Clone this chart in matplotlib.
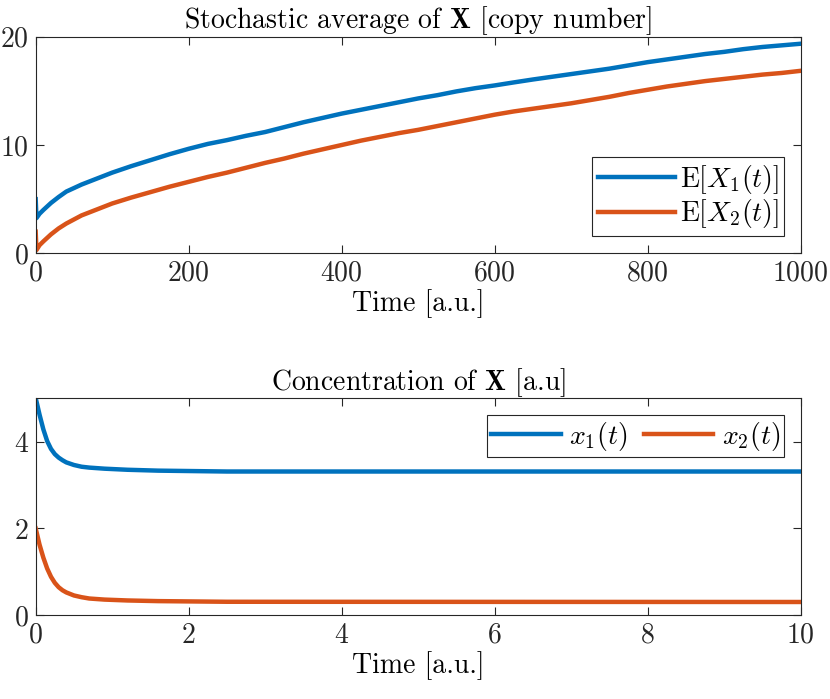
import matplotlib
matplotlib.use('Agg')
import matplotlib.pyplot as plt

# stochastic average (top panel)
t_stoch = [0, 1, 5, 10, 20, 30, 40, 60, 80, 100, 125, 150, 175, 200, 225, 250, 275,
           300, 325, 350, 375, 400, 425, 450, 475, 500, 525, 550, 575, 600, 625,
           650, 675, 700, 725, 750, 775, 800, 825, 850, 875, 900, 925, 950, 975,
           1000]
E_x1 = [5.0, 3.25, 3.65, 4.0, 4.65, 5.2, 5.7, 6.35, 6.9, 7.45, 8.05, 8.6, 9.15,
        9.65, 10.1, 10.45, 10.85, 11.2, 11.65, 12.1, 12.5, 12.9, 13.25, 13.6,
        13.95, 14.3, 14.6, 14.95, 15.25, 15.5, 15.78, 16.05, 16.3, 16.55, 16.8,
        17.05, 17.35, 17.65, 17.9, 18.15, 18.4, 18.6, 18.85, 19.05, 19.2, 19.35]
E_x2 = [2.0, 0.3, 0.75, 1.1, 1.75, 2.3, 2.75, 3.5, 4.05, 4.6, 5.15, 5.65, 6.15,
        6.6, 7.05, 7.45, 7.9, 8.35, 8.75, 9.2, 9.6, 10.0, 10.4, 10.75, 11.1, 11.4,
        11.75, 12.1, 12.45, 12.8, 13.1, 13.35, 13.6, 13.85, 14.15, 14.45, 14.8,
        15.1, 15.4, 15.65, 15.9, 16.1, 16.3, 16.5, 16.65, 16.85]

# deterministic concentration (bottom panel)
t_conc = [0, 0.05, 0.1, 0.15, 0.2, 0.25, 0.3, 0.35, 0.4, 0.5, 0.6, 0.7, 0.9, 1.2,
          1.6, 2.5, 10]
x1 = [5.0, 4.62, 4.28, 4.01, 3.83, 3.71, 3.63, 3.57, 3.52, 3.46, 3.42, 3.40, 3.375,
      3.35, 3.33, 3.31, 3.31]
x2 = [2.0, 1.63, 1.33, 1.08, 0.89, 0.75, 0.65, 0.58, 0.53, 0.46, 0.42, 0.39, 0.365,
      0.345, 0.33, 0.315, 0.31]

plt.rcParams['font.family'] = 'serif'
plt.rcParams['font.serif'] = ['cmr10']
plt.rcParams['mathtext.fontset'] = 'cm'
plt.rcParams['axes.formatter.use_mathtext'] = True
plt.rcParams['font.size'] = 20

blue = '#0072BD'
orange = '#D95319'
dark = '#262626'

fig = plt.figure(figsize=(8.3, 6.99), dpi=100)
ax1 = fig.add_axes([0.043, 0.6376, 0.9217, 0.3099])
ax2 = fig.add_axes([0.043, 0.1195, 0.9217, 0.3111])

ax1.plot(t_stoch, E_x1, color=blue, lw=3.2, label=r'$\mathrm{E}[X_1(t)]$')
ax1.plot(t_stoch, E_x2, color=orange, lw=3.2, label=r'$\mathrm{E}[X_2(t)]$')
ax1.set_xlim(0, 1000)
ax1.set_ylim(0, 20)
ax1.set_xticks([0, 200, 400, 600, 800, 1000])
ax1.set_yticks([0, 10, 20])
ax1.set_title(r'Stochastic average of $\mathbf{X}$ [copy number]', fontsize=20, pad=6)
ax1.set_xlabel('Time [a.u.]', fontsize=20, labelpad=2)
leg1 = ax1.legend(loc='lower right', bbox_to_anchor=(0.9785, 0.08), fancybox=False,
                  edgecolor=dark, framealpha=1, handlelength=2.8, borderpad=0.2,
                  labelspacing=0.05, handletextpad=0.15, borderaxespad=0)
leg1.get_frame().set_linewidth(0.8)

ax2.plot(t_conc, x1, color=blue, lw=3.2, label=r'$x_1(t)$')
ax2.plot(t_conc, x2, color=orange, lw=3.2, label=r'$x_2(t)$')
ax2.set_xlim(0, 10)
ax2.set_ylim(0, 5)
ax2.set_xticks([0, 2, 4, 6, 8, 10])
ax2.set_yticks([0, 2, 4])
ax2.set_title(r'Concentration of $\mathbf{X}$ [a.u]', fontsize=20, pad=6)
ax2.set_xlabel('Time [a.u.]', fontsize=20, labelpad=2)
leg2 = ax2.legend(loc='upper right', bbox_to_anchor=(0.9785, 0.92), ncol=2,
                  fancybox=False, edgecolor=dark, framealpha=1, handlelength=2.5,
                  borderpad=0.15, columnspacing=0.6, handletextpad=0.3,
                  borderaxespad=0)
leg2.get_frame().set_linewidth(0.8)

for ax in (ax1, ax2):
    ax.tick_params(direction='in', length=6, width=0.8, top=True, right=True,
                   colors=dark, labelsize=20, pad=5)
    for s in ax.spines.values():
        s.set_color(dark)
        s.set_linewidth(0.8)

fig.savefig('out.png', dpi=100)
